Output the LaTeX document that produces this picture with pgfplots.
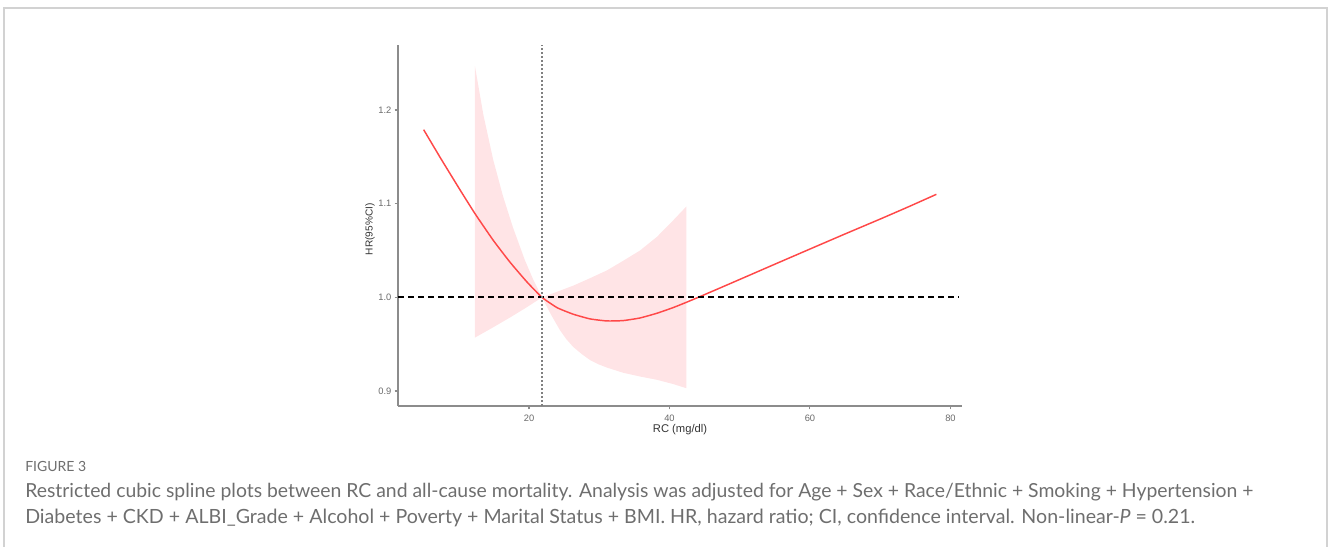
\documentclass[border=0pt]{standalone}
\usepackage{fontspec}
\setmainfont{Liberation Sans}
\newfontfamily\capfont{Lato}
\usepackage{pgfplots}
\pgfplotsset{compat=1.18}
\definecolor{curve}{HTML}{FF4848}
\definecolor{band}{HTML}{FFE4E6}
\definecolor{axgray}{HTML}{8C8C8C}
\definecolor{ticklab}{HTML}{6A6A6A}
\definecolor{captxt}{HTML}{6E6E6E}
\definecolor{framec}{HTML}{D2D2D2}
\definecolor{vgray}{HTML}{808080}

\pgfplotstableread{
x y
5.0 1.179
7.5 1.1475
10.2 1.1145
12.3 1.0895
14.9 1.061
17.3 1.0375
19.7 1.0165
21.85 1.000
24.0 0.989
26.3 0.982
28.7 0.977
31.1 0.9748
33.4 0.9752
35.8 0.978
38.2 0.983
40.5 0.989
42.5 0.995
44.4 1.001
47.5 1.011
51.1 1.0227
55.0 1.0354
60.5 1.0532
65.0 1.0677
70.0 1.0836
74.0 1.0966
78.0 1.110
}\curvetable

\begin{document}
\begin{tikzpicture}
\begin{scope}[x=0.75bp,y=-0.75bp]
\path[use as bounding box] (0,0) rectangle (1328,546);
\draw[framec, line width=1.1bp] (4,600) -- (4,8) -- (1327,8) -- (1327,600);
\node[anchor=base west, inner sep=0, text=captxt, font=\capfont\fontsize{10.5bp}{12bp}\selectfont] at (25,471) {FIGURE 3};
\node[anchor=base west, inner sep=0, text=captxt, font=\capfont\fontsize{11bp}{13bp}\selectfont] at (25,497) {\resizebox{921bp}{!}{Restricted cubic spline plots between RC and all-cause mortality. Analysis was adjusted for Age + Sex + Race/Ethnic + Smoking + Hypertension +}};
\node[anchor=base west, inner sep=0, text=captxt, font=\capfont\fontsize{11bp}{13bp}\selectfont] at (25,523) {\resizebox{877.5bp}{!}{Diabetes + CKD + ALBI\_Grade + Alcohol + Poverty + Marital Status + BMI. HR, hazard ratio; CI, confidence interval. Non-linear-\textit{P} = 0.21.}};
\end{scope}
\begin{axis}[
  at={(298.5bp,-304.5bp)}, anchor=south west,
  width=423bp, height=270.75bp, scale only axis,
  xmin=1.35, xmax=81.65, ymin=0.884, ymax=1.2694,
  axis x line*=bottom, axis y line*=left,
  axis line style={axgray, line width=1.1bp, -},
  xtick={20,40,60,80}, xticklabels={20,40,60,80},
  ytick={0.9,1.0,1.1,1.2}, yticklabels={0.9,1.0,1.1,1.2},
  tick style={axgray, line width=0.8bp}, tick align=outside, major tick length=2.5bp,
  ticklabel style={font=\fontsize{7bp}{8bp}\selectfont, text=ticklab},
  xticklabel style={yshift=-1bp},
  yticklabel style={xshift=1bp},
  xlabel={RC (mg/dl)}, ylabel={HR(95\%CI)},
  xlabel style={at={(axis description cs:0.5,-0.064)}, anchor=center, font=\fontsize{8.4bp}{9bp}\selectfont, text=black!80},
  ylabel style={at={(axis description cs:-0.0496,0.490)}, anchor=center, font=\fontsize{7.6bp}{9bp}\selectfont, text=black!80},
]
\addplot[fill=band, draw=none] coordinates {
(12.3,1.247) (13.5,1.195) (14.9,1.147) (16.3,1.108) (17.7,1.075) (19.4,1.040) (20.6,1.019) (21.85,1.000)
(23.5,1.0046) (26.3,1.0125) (28.7,1.0205) (31.1,1.0288) (33.4,1.039) (35.8,1.050) (38.2,1.0645) (40.5,1.082) (42.4,1.097)
(42.4,0.903) (40.5,0.9075) (38.2,0.912) (35.8,0.9155) (33.4,0.9195) (31.1,0.925) (29.9,0.9285) (28.7,0.933) (27.5,0.9395) (26.3,0.947) (25.3,0.9555) (24.4,0.965) (23.1,0.982) (21.85,1.000)
(19.7,0.9895) (17.3,0.9785) (14.9,0.968) (12.3,0.957)
} -- cycle;
\addplot[curve, line width=1.1bp, smooth, tension=0.3] table[x=x, y=y] {\curvetable};
\addplot[black, line width=1.3bp, dash pattern=on 4.5bp off 3bp] coordinates {(1.35,1.0) (81.1,1.0)};
\addplot[vgray, line width=1.5bp, dash pattern=on 1.5bp off 1.5bp] coordinates {(21.85,0.884) (21.85,1.2694)};
\end{axis}
\end{tikzpicture}
\end{document}
